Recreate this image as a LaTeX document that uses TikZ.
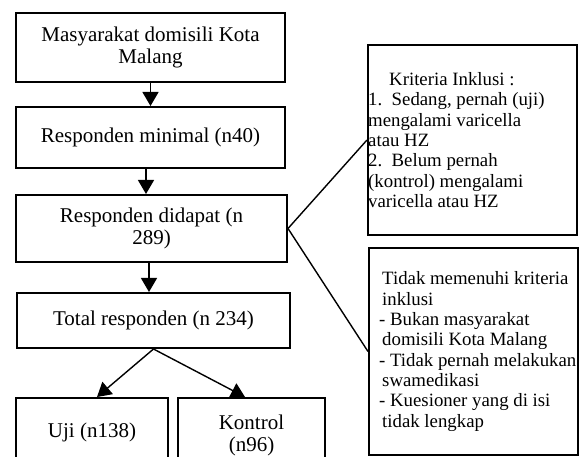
\documentclass[tikz,border=0pt]{standalone}
\usepackage{fontspec}
\setmainfont{Liberation Serif}
\usetikzlibrary{arrows.meta,positioning}

\tikzset{
  flowbox/.style={draw, line width=2pt, align=center, inner sep=0pt, font=\fontsize{21}{22}\selectfont},
  sidebox/.style={draw, line width=2pt, inner sep=0pt, minimum width=209pt},
  sidetext/.style={anchor=west, align=left, inner sep=0pt, font=\fontsize{18.8}{20.3}\selectfont},
  flowarrow/.style={-{Triangle[length=14pt,width=16pt]}, line width=1.4pt},
}

\begin{document}
\begin{tikzpicture}[x=1pt, y=-1pt]
  \clip (0,0) rectangle (582,457);

  % Main flow
  \node[flowbox, minimum width=269pt, minimum height=69pt] (masyarakat) at (150.5,47.5) {Masyarakat domisili Kota\\Malang};
  \node[flowbox, minimum width=269pt, minimum height=61pt] (minimal) at (150.5,137.5) {Responden minimal (n40)};
  \node[flowbox, minimum width=271pt, minimum height=67pt] (didapat) at (151.5,228.5) {Responden didapat (n\\289)};
  \node[flowbox, minimum width=273pt, minimum height=55pt] (total) at (153.5,320.5) {Total responden (n 234)};
  \node[flowbox, minimum width=152pt, minimum height=68pt] (uji) at (92,432) {Uji (n138)};
  \node[flowbox, minimum width=147pt, minimum height=74pt] (kontrol) at (251.5,435) {Kontrol\\(n96)};

  \draw[flowarrow] (masyarakat.south) -- (minimal.north);
  \draw[flowarrow] ([xshift=-4.5pt]minimal.south) -- ([xshift=-5.5pt]didapat.north);
  \draw[flowarrow] ([xshift=-2.5pt]didapat.south) -- ([xshift=-4.5pt]total.north);
  \draw[flowarrow] (total.south) -- ([xshift=5pt]uji.north);
  \draw[flowarrow] (total.south) -- ([xshift=-6.5pt]kontrol.north);

  % Side boxes
  \node[sidebox, minimum height=190pt] (kriteria) at (472.5,140) {};
  \node[sidetext] (kriteriatext) at ([xshift=1pt]kriteria.west) {\hspace*{21pt}Kriteria Inklusi :\\1.\ \ Sedang, pernah (uji)\\mengalami varicella\\atau HZ\\2.\ \ Belum pernah\\(kontrol) mengalami\\varicella atau HZ};

  \node[sidebox, minimum height=207pt] (eksklusi) at (473.5,351.5) {};
  \node[sidetext] (eksklusitext) at ([xshift=11pt]eksklusi.west) {\hspace*{3pt}Tidak memenuhi kriteria\\\hspace*{3pt}inklusi\\- Bukan masyarakat\\\hspace*{3pt}domisili Kota Malang\\- Tidak pernah melakukan\\\hspace*{3pt}swamedikasi\\- Kuesioner yang di isi\\\hspace*{3pt}tidak lengkap};

  \draw[line width=1.4pt] (didapat.east) -- (kriteria.west);
  \draw[line width=1.4pt] (didapat.east) -- (eksklusi.west);
\end{tikzpicture}
\end{document}
